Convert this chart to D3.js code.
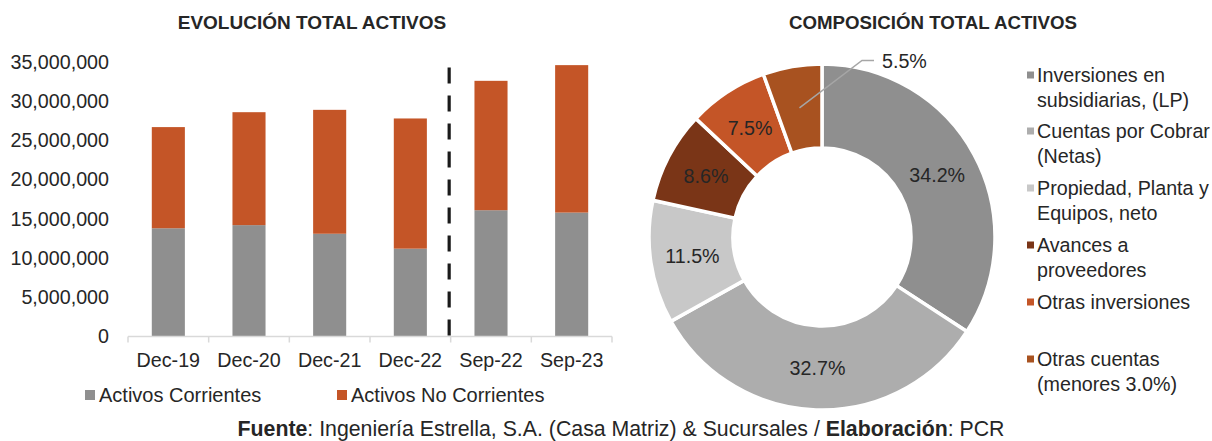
<!DOCTYPE html>
<html><head><meta charset="utf-8">
<script src="https://cdn.jsdelivr.net/npm/d3@7"></script>
<style>
html,body{margin:0;padding:0;background:#fff;}
svg{display:block;font-family:"Liberation Sans",Arial,sans-serif;}
</style></head>
<body>
<svg id="c" width="1212" height="441"></svg>
<script>
// ---- data ----
const categories = ["Dec-19","Dec-20","Dec-21","Dec-22","Sep-22","Sep-23"];
const activosCorrientes = [13800000,14200000,13100000,11200000,16100000,15800000];
const activosNoCorrientes = [12900000,14400000,15800000,16600000,16500000,18800000];
const seriesNames = ["Activos Corrientes","Activos No Corrientes"];
const yTicks = [0,5000000,10000000,15000000,20000000,25000000,30000000,35000000];

const pieLabels = ["Inversiones en subsidiarias, (LP)","Cuentas por Cobrar (Netas)","Propiedad, Planta y Equipos, neto","Avances a proveedores","Otras inversiones","Otras cuentas (menores 3.0%)"];
const pieLegendLines = [["Inversiones en","subsidiarias, (LP)"],["Cuentas por Cobrar","(Netas)"],["Propiedad, Planta y","Equipos, neto"],["Avances a","proveedores"],["Otras inversiones"],["Otras cuentas","(menores 3.0%)"]];
const pieValues = [34.2,32.7,11.5,8.6,7.5,5.5];

// ---- styles ----
const barColors = ["#8f8f8f","#c45527"];
const pieColors = ["#8f8f8f","#adadad","#c8c8c8","#7a3517","#c45527","#a85220"];
const txt = "#262626";
const fs = 19.7;

const svg = d3.select("#c");

// ---- titles ----
svg.append("text").attr("x",312).attr("y",29).attr("text-anchor","middle")
  .attr("font-weight","bold").attr("font-size",19).attr("fill",txt).text("EVOLUCIÓN TOTAL ACTIVOS");
svg.append("text").attr("x",933).attr("y",29).attr("text-anchor","middle")
  .attr("font-weight","bold").attr("font-size",18.7).attr("fill",txt).text("COMPOSICIÓN TOTAL ACTIVOS");

// ---- bar chart ----
const x = d3.scaleBand().domain(categories).range([128,612]).paddingInner(0.59).paddingOuter(0.295);
const xb = d3.scaleBand().domain(categories).range([128,612]);
const y = d3.scaleLinear().domain([0,35000000]).range([336.5,62]);

const stackData = categories.map((c,i)=>({cat:c, "Activos Corrientes":activosCorrientes[i], "Activos No Corrientes":activosNoCorrientes[i]}));
const stacked = d3.stack().keys(seriesNames)(stackData);

const gBars = svg.append("g");
stacked.forEach((s,si)=>{
  gBars.selectAll(null).data(s).enter().append("rect")
    .attr("x",d=>x(d.data.cat)).attr("width",x.bandwidth())
    .attr("y",d=>y(d[1])).attr("height",d=>y(d[0])-y(d[1]))
    .attr("fill",barColors[si]);
});

// y axis labels
const yAxis = d3.axisLeft(y).tickValues(yTicks).tickSize(0).tickPadding(0)
  .tickFormat(d=>d3.format(",")(d));
const gy = svg.append("g").attr("transform","translate(109,0)").call(yAxis);
gy.select(".domain").remove();
gy.selectAll("text").attr("font-size",fs).attr("fill",txt).attr("font-family","Liberation Sans, Arial, sans-serif");

// x axis
const gx = svg.append("g").attr("transform","translate(0,336.5)");
gx.append("line").attr("x1",128).attr("x2",612).attr("stroke","#d9d9d9").attr("stroke-width",1.5);
const bounds = categories.map(c=>xb(c)).concat([612]);
gx.selectAll(null).data(bounds).enter().append("line")
  .attr("x1",d=>d).attr("x2",d=>d).attr("y1",0).attr("y2",6).attr("stroke","#d9d9d9").attr("stroke-width",1.5);
gx.selectAll(null).data(categories).enter().append("text")
  .attr("x",d=>xb(d)+xb.bandwidth()/2).attr("y",30).attr("text-anchor","middle")
  .attr("font-size",fs).attr("fill",txt).text(d=>d);

// dashed separator between Dec-22 and Sep-22
svg.append("line").attr("x1",xb("Sep-22")-1.5).attr("x2",xb("Sep-22")-1.5)
  .attr("y1",67.5).attr("y2",336.5).attr("stroke","#1a1a1a").attr("stroke-width",3.2)
  .attr("stroke-dasharray","16,12");

// bar legend
const bl = svg.append("g");
const blX = [85,337];
seriesNames.forEach((n,i)=>{
  bl.append("rect").attr("x",blX[i]).attr("y",390).attr("width",10).attr("height",10).attr("fill",barColors[i]);
  bl.append("text").attr("x",blX[i]+14).attr("y",402).attr("font-size",fs+0.3).attr("fill",txt).text(n);
});

// ---- donut ----
const cx = 822, cy = 237, R = 173, r = 89;
const pie = d3.pie().sort(null).value(d=>d);
const arcs = pie(pieValues);
const arc = d3.arc().innerRadius(r).outerRadius(R);
const arcMid = d3.arc().innerRadius((r+R)/2).outerRadius((r+R)/2);
const gp = svg.append("g").attr("transform",`translate(${cx},${cy})`);
gp.selectAll(null).data(arcs).enter().append("path")
  .attr("d",arc).attr("fill",(d,i)=>pieColors[i]).attr("stroke","#fff").attr("stroke-width",3.5).attr("stroke-linejoin","miter");

arcs.forEach((a,i)=>{
  const [px,py] = arcMid.centroid(a);
  if(i<pieValues.length-1){
    gp.append("text").attr("x",px).attr("y",py).attr("dy","0.36em").attr("text-anchor","middle")
      .attr("font-size",fs).attr("fill",txt).text(pieValues[i].toFixed(1)+"%");
  } else {
    const ex = 40, ey = -R-3.5;
    gp.append("polyline").attr("points",`${px},${py} ${ex},${ey} ${ex+12},${ey}`)
      .attr("fill","none").attr("stroke","#a6a6a6").attr("stroke-width",1.5);
    gp.append("text").attr("x",ex+20).attr("y",ey).attr("dy","0.36em")
      .attr("font-size",fs).attr("fill",txt).text(pieValues[i].toFixed(1)+"%");
  }
});

// pie legend
const legY = [75,131,188,245,302,359];
const gl = svg.append("g");
pieLegendLines.forEach((lines,i)=>{
  gl.append("rect").attr("x",1027).attr("y",legY[i]-3.5).attr("width",7).attr("height",7).attr("fill",pieColors[i]);
  lines.forEach((t,j)=>{
    gl.append("text").attr("x",1037).attr("y",legY[i]+j*24.5).attr("dy","0.36em")
      .attr("font-size",fs).attr("fill",txt).text(t);
  });
});

// footer
const ft = svg.append("text").attr("x",621).attr("y",436).attr("text-anchor","middle")
  .attr("font-size",21.3).attr("fill",txt);
ft.append("tspan").attr("font-weight","bold").text("Fuente");
ft.append("tspan").text(": Ingeniería Estrella, S.A. (Casa Matriz) & Sucursales / ");
ft.append("tspan").attr("font-weight","bold").text("Elaboración");
ft.append("tspan").text(": PCR");
</script>
</body></html>
